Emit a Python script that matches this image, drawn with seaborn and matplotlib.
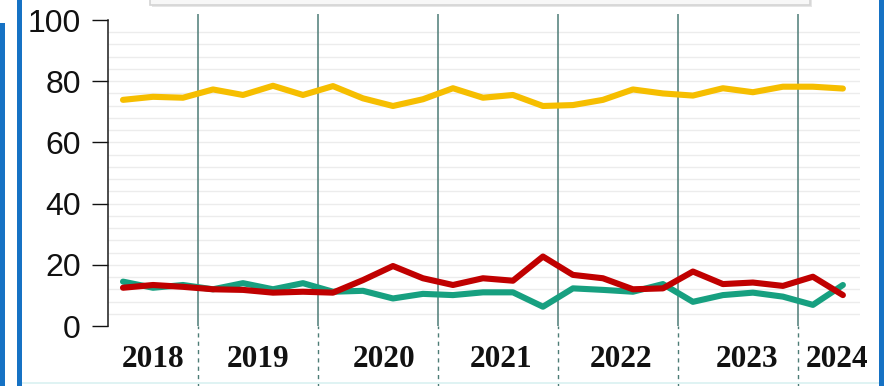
"""Quarterly shares 2018-2024: three series as thick lines with year separators."""

import matplotlib
matplotlib.use("Agg")
from matplotlib import pyplot as plt
from matplotlib.patches import Rectangle
import seaborn as sns
import pandas as pd

# quarters from 2018 Q2 to 2024 Q2
quarters = ['2018Q2', '2018Q3', '2018Q4',
            '2019Q1', '2019Q2', '2019Q3', '2019Q4',
            '2020Q1', '2020Q2', '2020Q3', '2020Q4',
            '2021Q1', '2021Q2', '2021Q3', '2021Q4',
            '2022Q1', '2022Q2', '2022Q3', '2022Q4',
            '2023Q1', '2023Q2', '2023Q3', '2023Q4',
            '2024Q1', '2024Q2']

yellow_vals = [73.9, 74.9, 74.6, 77.3, 75.5, 78.5, 75.5, 78.4, 74.4, 71.9, 74.1, 77.7, 74.6,
               75.5, 71.9, 72.2, 73.9, 77.3, 76.0, 75.3, 77.7, 76.4, 78.2, 78.2, 77.6]
green_vals = [14.5, 12.5, 13.4, 12.0, 14.0, 12.0, 14.0, 11.2, 11.5, 9.0, 10.5, 10.1, 11.0,
              11.0, 6.3, 12.3, 11.8, 11.2, 13.7, 7.9, 10.1, 10.9, 9.6, 6.9, 13.4]
red_vals = [12.5, 13.4, 12.8, 12.0, 11.8, 10.9, 11.2, 10.9, 15.0, 19.6, 15.6, 13.4, 15.6,
            14.8, 22.7, 16.7, 15.6, 12.0, 12.3, 17.8, 13.7, 14.2, 13.1, 16.1, 10.1]

series_names = ['yellow', 'green', 'red']
series_colors = ['#F6BE00', '#17A080', '#C00000']

year_labels = ['2018', '2019', '2020', '2021', '2022', '2023', '2024']
year_label_pos = [1.0, 4.5, 8.7, 12.6, 16.6, 20.8, 23.8]
year_breaks = [2.5, 6.5, 10.5, 14.5, 18.5, 22.5]

df = pd.DataFrame({
    'q': list(range(len(quarters))) * 3,
    'value': yellow_vals + green_vals + red_vals,
    'series': [s for s in series_names for _ in quarters],
})

sns.set_style('white')
plt.rcParams['font.family'] = ['Liberation Sans', 'DejaVu Sans']

W, H = 886, 386
fig = plt.figure(figsize=(W / 100, H / 100), dpi=100)
ax = fig.add_axes([108 / W, (H - 326) / H, (860 - 108) / W, 306 / H])

# faint horizontal grid every 4 units
ax.hlines(list(range(4, 100, 4)), -0.5, 24.57, color='#ececec', lw=1, zorder=0)

sns.lineplot(data=df, x='q', y='value', hue='series', palette=series_colors,
             hue_order=series_names, linewidth=4.4, legend=False, ax=ax,
             solid_joinstyle='round', solid_capstyle='round', zorder=3)

# year separators: solid inside the plot, dashed below it
ax.vlines(year_breaks, 0, 101.8, color='#4d7c76', lw=1.1, zorder=2, clip_on=False)
ax.vlines(year_breaks, -20, 0, color='#4d7c76', lw=1.0, linestyles=(0, (3, 3)),
          zorder=2, clip_on=False)

ax.set_xlim(-0.5, 24.57)
ax.set_ylim(0, 100)
ax.set_yticks([0, 20, 40, 60, 80, 100])
ax.tick_params(axis='y', labelsize=23, length=11.5, width=1, pad=8,
               colors='#111111', left=True)
ax.set_xticks(year_label_pos, year_labels)
ax.tick_params(axis='x', length=0, pad=14)
for lab in ax.get_xticklabels():
    lab.set_family('Liberation Serif')
    lab.set_fontweight('bold')
    lab.set_fontsize(22.5)
    lab.set_color('#111111')
ax.set_xlabel('')
ax.set_ylabel('')

for side in ['top', 'right', 'bottom']:
    ax.spines[side].set_visible(False)
ax.spines['left'].set_color('#1a1a1a')
ax.spines['left'].set_linewidth(1.1)


def px_rect(x0, y0, w, h, **kw):
    """Rectangle in figure pixel coordinates (y from the top)."""
    fig.add_artist(Rectangle((x0 / W, 1 - (y0 + h) / H), w / W, h / H,
                             transform=fig.transFigure, **kw))


# blue frame pieces of the screenshot
blue = '#1672C4'
px_rect(0, 23, 5, H - 23, color=blue, lw=0)
px_rect(17, 0, 5, H, color=blue, lw=0)
px_rect(879, 0, 5, H, color=blue, lw=0)
px_rect(22, 382, 857, 2, color='#dff3f3', lw=0)
# cut-off box at the top, with a soft shadow
px_rect(152, -6, 660, 13, facecolor='#e6e6e6', lw=0)
px_rect(150, -6, 660, 11, facecolor='#f7f7f7', edgecolor='#d4d4d4', lw=1.2)

fig.savefig('out.png', dpi=100)
